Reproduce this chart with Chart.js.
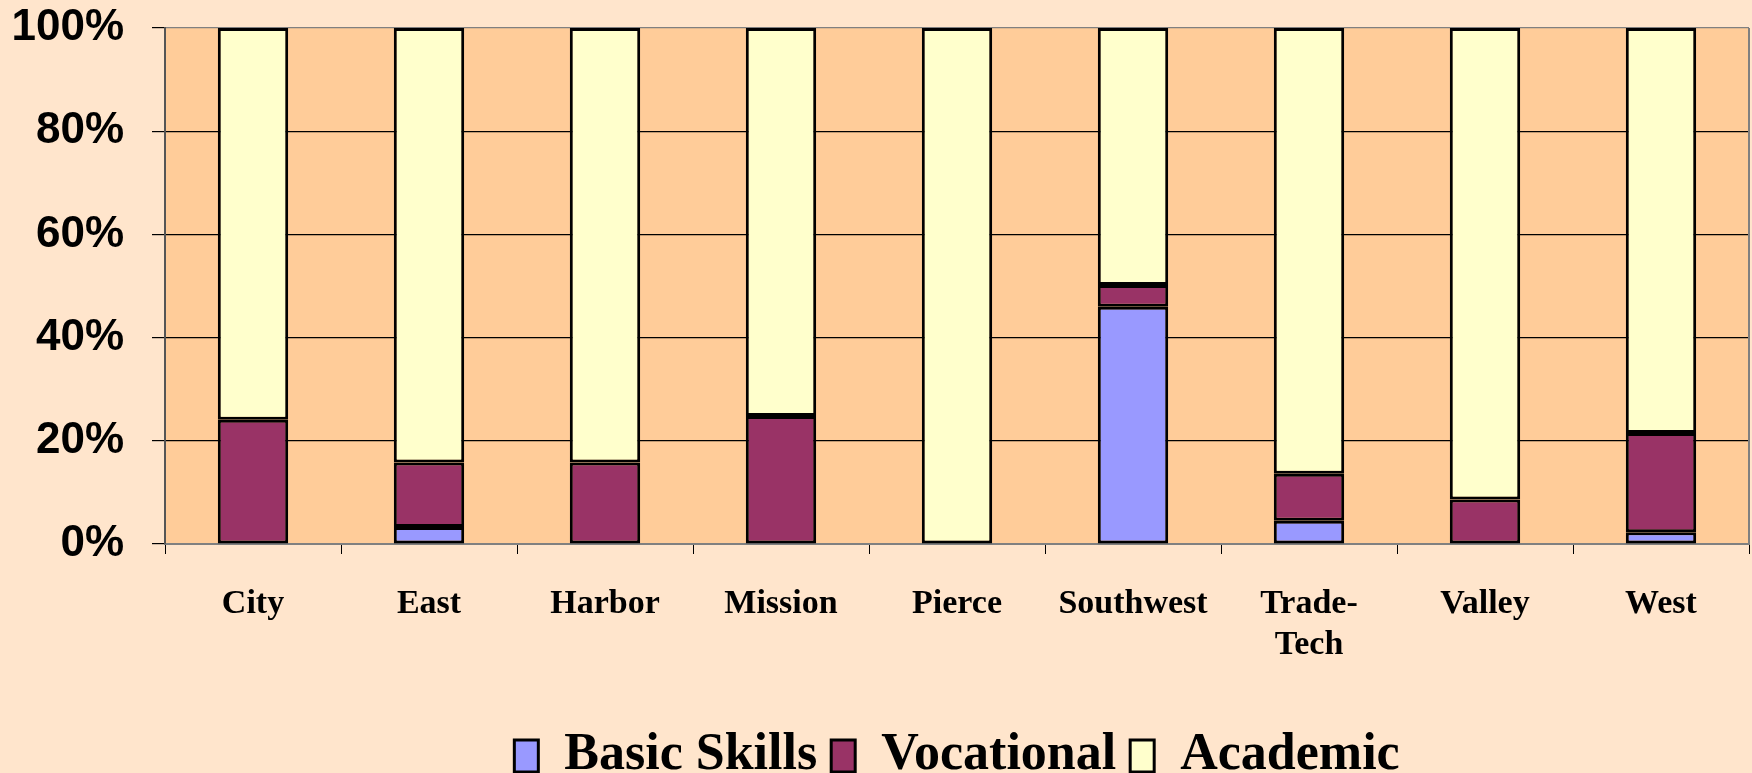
<!DOCTYPE html>
<html>
<head>
<meta charset="utf-8">
<script src="https://cdn.jsdelivr.net/npm/chart.js@4/dist/chart.umd.min.js"></script>
<style>
    html, body { margin: 0; padding: 0; background: #FFE5CC; }
    #wrap { width: 1752px; height: 773px; }
</style>
</head>
<body>
<div id="wrap"><canvas id="enrollment-chart"></canvas></div>
<script>
const colleges = ['City', 'East', 'Harbor', 'Mission', 'Pierce', 'Southwest', ['Trade-', 'Tech'], 'Valley', 'West'];
const basicSkills = [0, 3.3, 0, 0, 0, 46.0, 4.5, 0, 2.3];
const vocational = [24.1, 12.5, 15.8, 24.8, 0, 4.2, 9.1, 8.6, 19.2];
const academic = [75.9, 84.2, 84.2, 75.2, 100, 49.8, 86.4, 91.4, 78.5];
const yTicks = [0, 20, 40, 60, 80, 100];

const plotBackground = {
    id: 'plotBackground',
    beforeDraw(chart) {
        const { ctx, chartArea } = chart;
        ctx.save();
        ctx.fillStyle = '#FFCC99';
        ctx.fillRect(chartArea.left, chartArea.top, chartArea.width, chartArea.height);
        ctx.restore();
    },
    afterDatasetsDraw(chart) {
        const { ctx, chartArea } = chart;
        ctx.save();
        ctx.strokeStyle = '#808080';
        ctx.lineWidth = 2;
        ctx.beginPath();
        ctx.moveTo(chartArea.right, chartArea.top);
        ctx.lineTo(chartArea.right, chartArea.bottom);
        ctx.stroke();
        ctx.restore();
    }
};

function makeDataset(label, values, color) {
    return {
        label,
        data: values,
        backgroundColor: color,
        borderColor: '#000000',
        borderWidth: 3,
        borderSkipped: false,
        barPercentage: 0.4,
        categoryPercentage: 1.0
    };
}

new Chart(document.getElementById('enrollment-chart'), {
    type: 'bar',
    data: {
        labels: colleges,
        datasets: [
            makeDataset('Basic Skills', basicSkills, '#9999FF'),
            makeDataset('Vocational', vocational, '#993366'),
            makeDataset('Academic', academic, '#FFFFCC')
        ]
    },
    options: {
        responsive: true,
        maintainAspectRatio: false,
        animation: false,
        layout: {
            padding: { top: 28, right: 3, left: 0, bottom: -19 }
        },
        plugins: {
            legend: {
                position: 'bottom',
                fullSize: false,
                labels: {
                    color: '#000000',
                    font: { family: 'Liberation Serif', weight: 'bold', size: 52 },
                    boxWidth: 24,
                    boxHeight: 32,
                    padding: 14
                }
            },
            tooltip: { enabled: false }
        },
        scales: {
            x: {
                stacked: true,
                grid: {
                    offset: true,
                    drawOnChartArea: false,
                    tickLength: 10,
                    tickColor: '#000000'
                },
                border: { color: '#808080', width: 2 },
                ticks: {
                    color: '#000000',
                    padding: 30,
                    maxRotation: 0,
                    autoSkip: false,
                    font: { family: 'Liberation Serif', weight: 'bold', size: 34 },
                    lineHeight: 1.05
                },
                afterFit: scale => { scale.height = 172; }
            },
            y: {
                stacked: true,
                min: 0,
                max: 100,
                afterBuildTicks: scale => {
                    scale.ticks = yTicks.map(value => ({ value }));
                },
                grid: {
                    color: context => context.tick && context.tick.value === 100 ? '#808080' : '#000000',
                    lineWidth: 1.2,
                    tickLength: 13,
                    tickColor: '#000000'
                },
                border: { color: '#555555', width: 2 },
                ticks: {
                    color: '#000000',
                    padding: 28,
                    font: { family: 'Liberation Sans', weight: 'bold', size: 44 },
                    callback: value => `${value}%`
                },
                afterFit: scale => {
                    scale.width = 165;
                    scale.paddingTop = 0;
                    scale.paddingBottom = 0;
                }
            }
        }
    },
    plugins: [plotBackground]
});
</script>
</body>
</html>
